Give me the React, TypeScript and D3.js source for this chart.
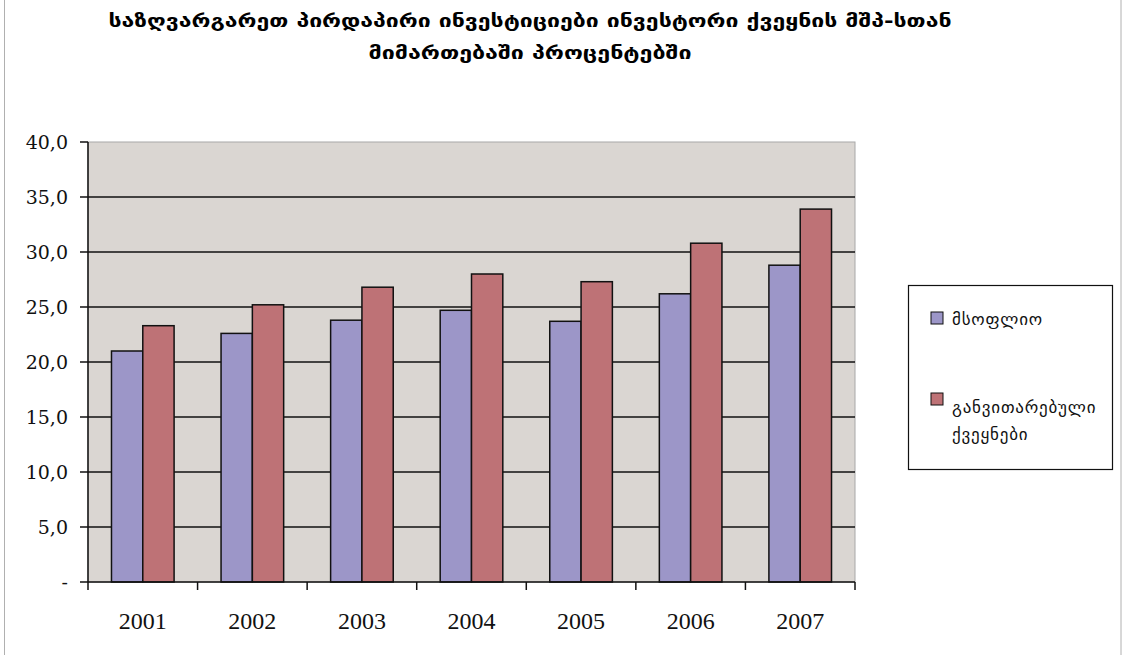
import { useMemo } from 'react';
import * as d3 from 'd3';

const years = ['2001', '2002', '2003', '2004', '2005', '2006', '2007'];
const worldValues = [21.0, 22.6, 23.8, 24.7, 23.7, 26.2, 28.8];
const developedValues = [23.3, 25.2, 26.8, 28.0, 27.3, 30.8, 33.9];
const yTicks = [0, 5, 10, 15, 20, 25, 30, 35, 40];
const seriesNames = ['მსოფლიო', 'განვითარებული ქვეყნები'];
const titleLines = [
    'საზღვარგარეთ პირდაპირი ინვესტიციები ინვესტორი ქვეყნის მშპ-სთან',
    'მიმართებაში პროცენტებში',
];
const titleWidths = [843, 323];

const width = 1122;
const height = 655;
const plot = { left: 88, right: 855, top: 142, bottom: 582 };
const colors = ['#9C96C8', '#BE7276'];
const georgianFont = '"DejaVu Sans", sans-serif';
const numberFont = '"Liberation Serif", "DejaVu Serif", serif';
const tickFont = '"DejaVu Serif", serif';

const fmt = (v: number) => (v === 0 ? '-' : v.toFixed(1).replace('.', ','));

const App = () => {
    const x0 = useMemo(
        () => d3.scaleBand().domain(years).range([plot.left, plot.right]).paddingInner(0).paddingOuter(0),
        []
    );
    // two bars per year, gap width 150% of a bar
    const x1 = useMemo(
        () =>
            d3
                .scaleBand()
                .domain(['0', '1'])
                .range([0, x0.bandwidth()])
                .paddingOuter(0.75)
                .paddingInner(0),
        [x0]
    );
    const y = useMemo(() => d3.scaleLinear().domain([0, 40]).range([plot.bottom, plot.top]), []);

    const series = [worldValues, developedValues];

    return (
        <svg
            width={width}
            height={height}
            style={{ position: 'absolute', left: 0, top: 0, background: '#fff' }}
        >
            <line x1={4.5} x2={4.5} y1={0} y2={height} stroke="#b0b0b0" />
            <line x1={1121} x2={1121} y1={0} y2={height} stroke="#b0b0b0" />

            {titleLines.map((t, i) => (
                <text
                    key={i}
                    x={530}
                    y={27 + i * 32}
                    textAnchor="middle"
                    fontFamily={georgianFont}
                    fontWeight="bold"
                    fontSize={18}
                    textLength={titleWidths[i]}
                    lengthAdjust="spacingAndGlyphs"
                >
                    {t}
                </text>
            ))}

            {/* plot area */}
            <rect
                x={plot.left}
                y={plot.top}
                width={plot.right - plot.left}
                height={plot.bottom - plot.top}
                fill="#DAD6D2"
                stroke="#a8a8a8"
            />
            {yTicks
                .filter(t => t > 0 && t < 40)
                .map(t => (
                    <line
                        key={t}
                        x1={plot.left}
                        x2={plot.right}
                        y1={y(t)}
                        y2={y(t)}
                        stroke="#111"
                        strokeWidth={1.5}
                    />
                ))}

            {/* bars */}
            {series.map((vals, si) =>
                vals.map((v, i) => (
                    <rect
                        key={`${si}-${i}`}
                        x={(x0(years[i]) ?? 0) + (x1(String(si)) ?? 0)}
                        y={y(v)}
                        width={x1.bandwidth()}
                        height={y(0) - y(v)}
                        fill={colors[si]}
                        stroke="#111"
                        strokeWidth={1.5}
                    />
                ))
            )}

            {/* y axis */}
            <line x1={plot.left} x2={plot.left} y1={plot.top} y2={plot.bottom} stroke="#111" strokeWidth={1.5} />
            {yTicks.map(t => (
                <g key={t}>
                    <line x1={plot.left - 8} x2={plot.left} y1={y(t)} y2={y(t)} stroke="#111" strokeWidth={1.5} />
                    <text
                        x={68}
                        y={y(t) + 6.5}
                        textAnchor="end"
                        fontFamily={tickFont}
                        fontSize={19}
                        fill="#111"
                    >
                        {fmt(t)}
                    </text>
                </g>
            ))}

            {/* x axis */}
            <line x1={plot.left} x2={plot.right} y1={plot.bottom} y2={plot.bottom} stroke="#111" strokeWidth={1.5} />
            {[...years.map(yr => x0(yr) ?? 0), plot.right].map((xv, i) => (
                <line key={i} x1={xv} x2={xv} y1={plot.bottom} y2={plot.bottom + 8} stroke="#111" strokeWidth={1.5} />
            ))}
            {years.map(yr => (
                <text
                    key={yr}
                    x={(x0(yr) ?? 0) + x0.bandwidth() / 2}
                    y={628.5}
                    textAnchor="middle"
                    fontFamily={numberFont}
                    fontSize={24}
                    fill="#111"
                >
                    {yr}
                </text>
            ))}

            {/* legend */}
            <rect x={908.5} y={285.5} width={204} height={184} fill="#fff" stroke="#111" strokeWidth={1.2} />
            <rect x={931} y={312} width={12} height={12} fill={colors[0]} stroke="#111" />
            <text x={952} y={325} fontFamily={georgianFont} fontSize={17} letterSpacing={0.8} fill="#111">
                {seriesNames[0]}
            </text>
            <rect x={931} y={393} width={12} height={12} fill={colors[1]} stroke="#111" />
            {seriesNames[1].split(' ').map((w, i) => (
                <text
                    key={w}
                    x={952}
                    y={413 + i * 27}
                    fontFamily={georgianFont}
                    fontSize={17}
                    letterSpacing={0.8}
                    fill="#111"
                >
                    {w}
                </text>
            ))}
        </svg>
    );
};

export default App;
